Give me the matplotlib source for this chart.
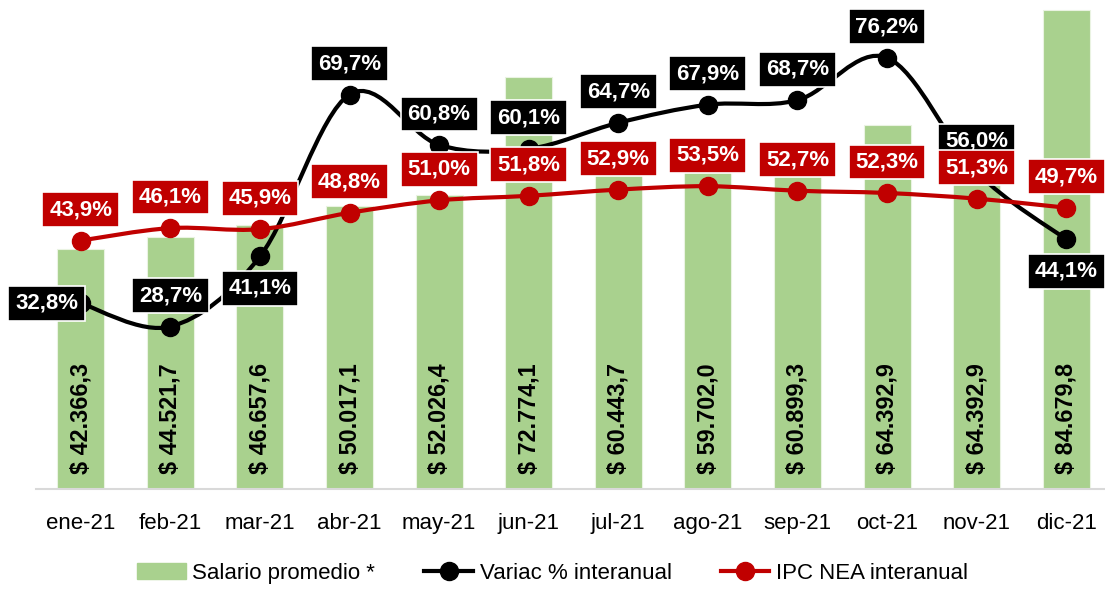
import numpy as np
import matplotlib
matplotlib.use('Agg')
import matplotlib.pyplot as plt
from matplotlib.path import Path
from matplotlib.patches import PathPatch, Patch
from matplotlib.lines import Line2D

plt.rcParams['font.family'] = ['Liberation Sans', 'DejaVu Sans']

meses = ['ene-21', 'feb-21', 'mar-21', 'abr-21', 'may-21', 'jun-21',
         'jul-21', 'ago-21', 'sep-21', 'oct-21', 'nov-21', 'dic-21']
salario = [42366.3, 44521.7, 46657.6, 50017.1, 52026.4, 72774.1,
           60443.7, 59702.0, 60899.3, 64392.9, 64392.9, 84679.8]
variac = [32.8, 28.7, 41.1, 69.7, 60.8, 60.1, 64.7, 67.9, 68.7, 76.2, 56.0, 44.1]
ipc = [43.9, 46.1, 45.9, 48.8, 51.0, 51.8, 52.9, 53.5, 52.7, 52.3, 51.3, 49.7]
# where the black labels sit relative to their point
pos_variac = ['left', 'above', 'below', 'above', 'above', 'above',
              'above', 'above', 'above', 'above', 'above', 'below']

VERDE = '#A9D18E'
ROJO = '#C00000'
FS = 16


def num_es(v, dec=1):
    s = f'{v:,.{dec}f}'
    return s.replace(',', 'X').replace('.', ',').replace('X', '.')


def curva_suave(xs, ys):
    # bezier curve through the points, like Excel's "smoothed line"
    pts = np.column_stack([xs, ys]).astype(float)
    n = len(pts)
    verts = [pts[0]]
    codes = [Path.MOVETO]
    for i in range(n - 1):
        p0 = pts[i - 1] if i > 0 else pts[i]
        p3 = pts[i + 2] if i + 2 < n else pts[i + 1]
        c1 = pts[i] + (pts[i + 1] - p0) / 6
        c2 = pts[i + 1] - (p3 - pts[i]) / 6
        verts += [c1, c2, pts[i + 1]]
        codes += [Path.CURVE4] * 3
    return Path(verts, codes)


fig = plt.figure(figsize=(11.05, 5.89), dpi=100)
ax = fig.add_axes([36 / 1105, 100 / 589, 1075 / 1105, 489 / 589])
ax2 = ax.twinx()

x = np.arange(len(meses))
ax.bar(x, salario, width=0.525, color=VERDE, edgecolor='#EAF3E2', linewidth=0.8, zorder=2)
for i, v in enumerate(salario):
    ax.annotate('$ ' + num_es(v), xy=(i, 0), xytext=(0, 15), textcoords='offset pixels',
                rotation=90, ha='center', va='bottom', fontsize=16.8, fontweight='bold',
                color='black', zorder=3)

ax.set_xlim(-0.5, len(meses) - 0.5)
ax.set_ylim(0, 86400)
ax2.set_ylim(0, 86.4)
ax.set_xticks(x, meses, fontsize=FS)
ax.tick_params(axis='x', length=0, pad=17)
ax.set_yticks([])
ax2.set_yticks([])
for s in ['top', 'left', 'right']:
    ax.spines[s].set_visible(False)
for s in ax2.spines.values():
    s.set_visible(False)
ax.spines['bottom'].set_color('#D9D9D9')
ax.spines['bottom'].set_linewidth(1.5)

ax2.add_patch(PathPatch(curva_suave(x, variac), fill=False, edgecolor='black', lw=3,
                        capstyle='round', joinstyle='round', zorder=3))
ax2.plot(x, variac, 'o', color='black', ms=13, zorder=3)
ax2.add_patch(PathPatch(curva_suave(x, ipc), fill=False, edgecolor=ROJO, lw=3,
                        capstyle='round', joinstyle='round', zorder=4))
ax2.plot(x, ipc, 'o', color=ROJO, ms=13, zorder=4)

offs = {'above': (0, 31), 'below': (0, -32), 'left': (-34, 0)}
for i, v in enumerate(variac):
    ax2.annotate(num_es(v) + '%', xy=(i, v), xytext=offs[pos_variac[i]],
                 textcoords='offset pixels', ha='center', va='center',
                 fontsize=FS, fontweight='bold', color='white', zorder=5,
                 bbox=dict(boxstyle='square,pad=0.31', fc='black', ec='white', lw=1.2))
for i, v in enumerate(ipc):
    ax2.annotate(num_es(v) + '%', xy=(i, v), xytext=(0, 31),
                 textcoords='offset pixels', ha='center', va='center',
                 fontsize=FS, fontweight='bold', color='white', zorder=6,
                 bbox=dict(boxstyle='square,pad=0.31', fc=ROJO, ec='white', lw=1.2))

handles = [Patch(color=VERDE),
           Line2D([], [], color='black', lw=3, marker='o', ms=13),
           Line2D([], [], color=ROJO, lw=3, marker='o', ms=13)]
labels = ['Salario promedio *', 'Variac % interanual', 'IPC NEA interanual']
fig.legend(handles, labels, loc='lower center', bbox_to_anchor=(0.5, -0.025), ncol=3,
           frameon=False, fontsize=FS, handlelength=2.2, handletextpad=0.3,
           columnspacing=2.2)

fig.savefig('out.png', dpi=100)
